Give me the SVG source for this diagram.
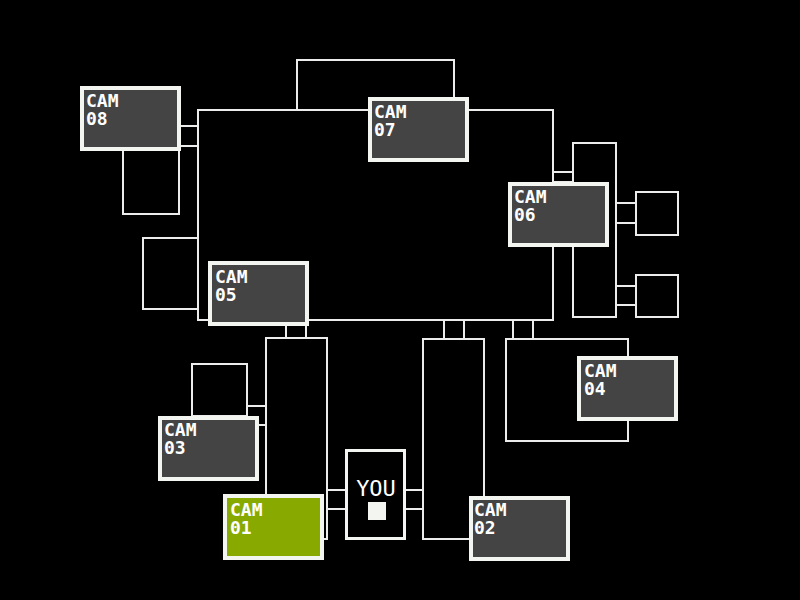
<svg xmlns="http://www.w3.org/2000/svg" width="800" height="600" viewBox="0 0 800 600">
<style>
.ln{fill:none;stroke:#ececec;stroke-width:2}
.card{fill:#444444;stroke:#f2f5f0;stroke-width:4}
.card.on{fill:#88aa00}
.lbl{font-family:"DejaVu Sans Mono","Liberation Mono",monospace;font-weight:bold;font-size:18px;fill:#ffffff}
.you{font-family:"DejaVu Sans Mono","Liberation Mono",monospace;font-size:22px;fill:#ffffff}
</style>
<rect width="800" height="600" fill="#000000"/>
<g id="rooms">
<rect class="ln" x="198" y="110" width="355" height="210"/>
<rect class="ln" x="297" y="60" width="157" height="50"/>
<rect class="ln" x="123" y="150" width="56" height="64"/>
<rect class="ln" x="143" y="238" width="55" height="71"/>
<rect class="ln" x="573" y="143" width="43" height="174"/>
<rect class="ln" x="636" y="192" width="42" height="43"/>
<rect class="ln" x="636" y="275" width="42" height="42"/>
<rect class="ln" x="266" y="338" width="61" height="201"/>
<rect class="ln" x="192" y="364" width="55" height="52"/>
<rect class="ln" x="423" y="339" width="61" height="200"/>
<rect class="ln" x="506" y="339" width="122" height="102"/>
</g>
<g id="connectors">
<path class="ln" d="M181 126H198M181 146H198"/>
<path class="ln" d="M553 172H573M553 182H573"/>
<path class="ln" d="M616 203H636M616 223H636"/>
<path class="ln" d="M616 286H636M616 305H636"/>
<path class="ln" d="M286 320V338M306 320V338"/>
<path class="ln" d="M247 406H266M258 425H266"/>
<path class="ln" d="M327 490H345M327 509H345"/>
<path class="ln" d="M406 490H423M406 509H423"/>
<path class="ln" d="M444 320V339M464 320V339"/>
<path class="ln" d="M513 320V339M533 320V339"/>
</g>
<g id="you">
<rect x="346.5" y="450.5" width="58" height="88" fill="#000000" stroke="#f2f5f0" stroke-width="3"/>
<text class="you" x="376" y="496" text-anchor="middle">YOU</text>
<rect x="368" y="502" width="18" height="18" fill="#f2f5f0"/>
</g>
<g id="cam08"><rect class="card" x="82" y="88" width="97" height="61"/><text class="lbl" x="86" y="107">CAM<tspan x="86" dy="18">08</tspan></text></g>
<g id="cam07"><rect class="card" x="370" y="99" width="97" height="61"/><text class="lbl" x="374" y="118">CAM<tspan x="374" dy="18">07</tspan></text></g>
<g id="cam06"><rect class="card" x="510" y="184" width="97" height="61"/><text class="lbl" x="514" y="203">CAM<tspan x="514" dy="18">06</tspan></text></g>
<g id="cam05"><rect class="card" x="210" y="263" width="97" height="61"/><text class="lbl" x="215" y="283">CAM<tspan x="215" dy="18">05</tspan></text></g>
<g id="cam04"><rect class="card" x="579" y="358" width="97" height="61"/><text class="lbl" x="584" y="377">CAM<tspan x="584" dy="18">04</tspan></text></g>
<g id="cam03"><rect class="card" x="160" y="418" width="97" height="61"/><text class="lbl" x="164" y="436">CAM<tspan x="164" dy="18">03</tspan></text></g>
<g id="cam01"><rect class="card on" x="225" y="496" width="97" height="62"/><text class="lbl" x="230" y="516">CAM<tspan x="230" dy="18">01</tspan></text></g>
<g id="cam02"><rect class="card" x="471" y="498" width="97" height="61"/><text class="lbl" x="474" y="516">CAM<tspan x="474" dy="18">02</tspan></text></g>
</svg>
